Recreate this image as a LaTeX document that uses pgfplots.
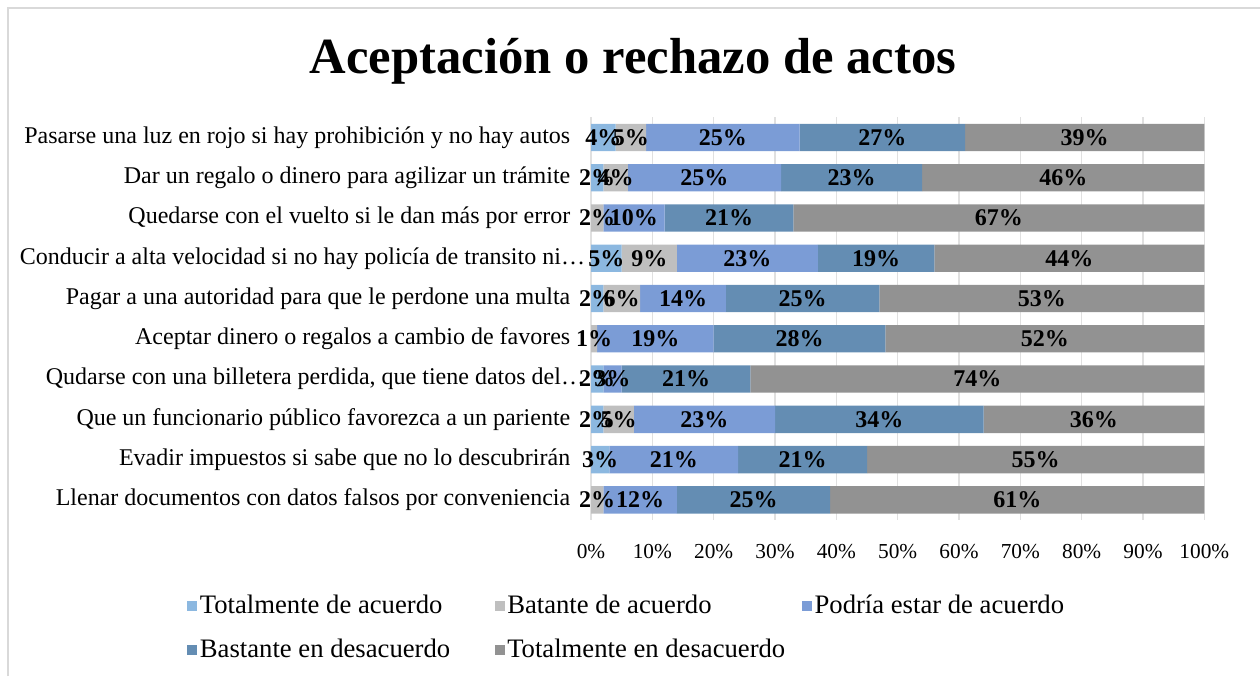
\documentclass[border=0pt]{standalone}
\usepackage{pgfplots}
\pgfplotsset{compat=1.18}
\usepackage{pgfplotstable}
\usepackage{fontspec}
\setmainfont{Liberation Serif}
\definecolor{cA}{HTML}{8CB8E0}
\definecolor{cB}{HTML}{BFBFBF}
\definecolor{cC}{HTML}{7B9CD6}
\definecolor{cD}{HTML}{648DB3}
\definecolor{cE}{HTML}{929292}
\pgfplotstableread{
y  a  b  c  d  e
10 4 5 25 27 39
9  2 4 25 23 46
8  0 2 10 21 67
7  5 9 23 19 44
6  2 6 14 25 53
5  0 1 19 28 52
4  2 0 3 21 74
3  2 5 23 34 36
2  3 0 21 21 55
1  0 2 12 25 61
}\data
\newcommand{\lbl}[1]{\makebox[216pt][l]{#1}}
\begin{document}
\begin{tikzpicture}
\useasboundingbox (0,0) rectangle (945pt,-507pt);
\draw[draw=black!15,line width=1pt] (6pt,-507pt) -- (6pt,-6pt) -- (945pt,-6pt);
\node[font=\fontsize{38}{44}\selectfont\bfseries] at (474.75pt,-46pt) {Aceptación o rechazo de actos};
\begin{axis}[
  at={(443.25pt,-390pt)}, anchor=south west,
  scale only axis, width=460pt, height=302pt,
  xbar stacked, bar width=20.5pt,
  xmin=0, xmax=100, ymin=0.5, ymax=10.5,
  axis line style={draw=none},
  /pgf/number format/assume math mode=true,
  xtick={0,10,...,100},
  xticklabels={0\%,10\%,20\%,30\%,40\%,50\%,60\%,70\%,80\%,90\%,100\%},
  ytick={1,...,10},
  yticklabels={Llenar documentos con datos falsos por conveniencia,
    Evadir impuestos si sabe que no lo descubrirán,
    Que un funcionario público favorezca a un pariente,
    Qudarse con una billetera perdida{,} que tiene datos del…\hspace*{-11pt},
    Aceptar dinero o regalos a cambio de favores,
    Pagar a una autoridad para que le perdone una multa,
    Conducir a alta velocidad si no hay policía de transito ni…\hspace*{-11pt},
    Quedarse con el vuelto si le dan más por error,
    Dar un regalo o dinero para agilizar un trámite,
    Pasarse una luz en rojo si hay prohibición y no hay autos},
  major tick length=0pt,
  xmajorgrids, grid style={draw=black!12, line width=1pt},
  xticklabel style={font=\fontsize{16}{19}\selectfont, yshift=-15pt},
  yticklabel style={font=\fontsize{18}{21}\selectfont, xshift=-12pt},
  point meta=explicit,
  nodes near coords={\ifdim\rawv pt>0pt \pgfmathprintnumber{\rawv}\%\fi},
  every node near coord/.append style={font=\fontsize{18}{21}\selectfont\bfseries, black, anchor=center, inner sep=0pt},
  legend columns=3,
  legend style={at={(-306pt,-52pt)}, anchor=north west, draw=none, fill=none,
    font=\fontsize{20}{23}\selectfont, row sep=14pt,
    /tikz/every even column/.append style={column sep=3pt}},
  legend cell align=left,
  legend image code/.code={\fill[#1] (0pt,-4pt) rectangle (7.5pt,3.5pt);},
]
\addplot[fill=cA, draw=none, visualization depends on={\thisrow{a} \as \rawv}] table[x=a,y=y,meta=a]{\data};
\addlegendentry{\lbl{Totalmente de acuerdo}}
\addplot[fill=cB, draw=none, visualization depends on={\thisrow{b} \as \rawv}] table[x=b,y=y,meta=b]{\data};
\addlegendentry{\lbl{Batante de acuerdo}}
\addplot[fill=cC, draw=none, visualization depends on={\thisrow{c} \as \rawv}] table[x=c,y=y,meta=c]{\data};
\addlegendentry{\lbl{Podría estar de acuerdo}}
\addplot[fill=cD, draw=none, visualization depends on={\thisrow{d} \as \rawv}] table[x=d,y=y,meta=d]{\data};
\addlegendentry{\lbl{Bastante en desacuerdo}}
\addplot[fill=cE, draw=none, visualization depends on={\thisrow{e} \as \rawv}] table[x=e,y=y,meta=e]{\data};
\addlegendentry{\lbl{Totalmente en desacuerdo}}
\end{axis}
\end{tikzpicture}
\end{document}
